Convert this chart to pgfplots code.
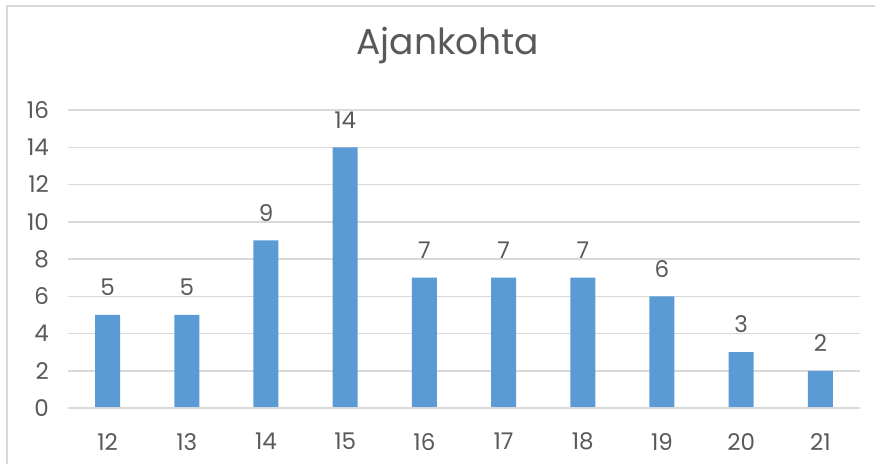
\documentclass[border=0pt]{standalone}
\usepackage{fontspec}
\setmainfont{Poppins}
\usepackage{pgfplots}
\pgfplotsset{compat=1.18}
\definecolor{barblue}{HTML}{5B9BD5}
\definecolor{gridgray}{HTML}{D9D9D9}
\definecolor{txtgray}{HTML}{595959}
\begin{document}
\begin{tikzpicture}
\draw[gridgray,line width=0.8pt] (3.5pt,-10pt) -- (3.5pt,228.5pt) -- (460pt,228.5pt);
\node[txtgray,font=\fontsize{18}{21}\selectfont] at (224pt,209pt) {Ajankohta};
\begin{axis}[
  at={(34pt,27.5pt)}, anchor=south west,
  scale only axis, width=396pt, height=149pt,
  xmin=-0.5, xmax=9.5, ymin=0, ymax=16,
  ytick={0,2,...,16},
  xtick=data,
  xticklabels={12,13,14,15,16,17,18,19,20,21},
  axis line style={draw=none},
  ymajorgrids, grid style={gridgray,line width=0.75pt},
  major tick length=0pt,
  tick label style={font=\fontsize{11.5}{13}\selectfont, text=txtgray},
  yticklabel style={xshift=-6pt},
  xticklabel style={yshift=-9pt},
  /pgf/number format/assume math mode=true,
  ybar, bar width=12.5pt,
  nodes near coords,
  every node near coord/.append style={font=\fontsize{11.5}{13}\selectfont, text=txtgray, yshift=6pt},
  clip=false,
]
\addplot[fill=barblue, draw=none] coordinates {(0,5) (1,5) (2,9) (3,14) (4,7) (5,7) (6,7) (7,6) (8,3) (9,2)};
\draw[gridgray,line width=0.9pt] (axis cs:-0.5,0) -- (axis cs:9.5,0);
\end{axis}
\pgfresetboundingbox
\useasboundingbox (0,0) rectangle (437.5pt,231.5pt);
\end{tikzpicture}
\end{document}
